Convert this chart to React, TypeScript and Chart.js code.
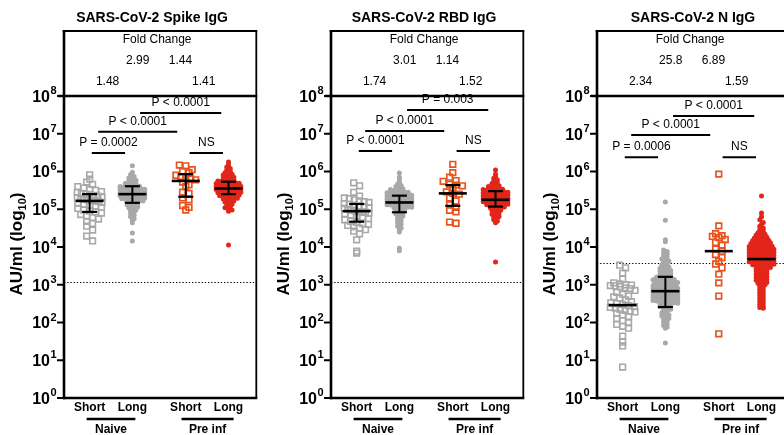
import React, { useEffect, useRef } from 'react';
import { Chart, registerables } from 'chart.js';

Chart.register(...registerables);

// ---------- shared categories ----------
const groupNames = ['Short', 'Long', 'Short', 'Long'];
const cohortNames = ['Naive', 'Pre inf'];
const groupPositions = [1, 2, 3.25, 4.25];
const pairs = [[0, 1], [0, 2], [1, 3], [2, 3]];
const foldRows = [2, 1, 1, 2];
const yTickExponents = [0, 1, 2, 3, 4, 5, 6, 7, 8];

// ---------- Spike IgG (log10 AU/ml) ----------
const spikeTitle = 'SARS-CoV-2 Spike IgG';
const spikeShortNaive = [5.91, 5.80, 5.72, 5.66, 5.60, 5.56, 5.52, 5.50, 5.47, 5.45, 5.42, 5.40, 5.39, 5.37, 5.35, 5.33, 5.31, 5.29, 5.27, 5.25, 5.23, 5.22, 5.20, 5.18, 5.16, 5.13, 5.10, 5.08, 5.05, 5.02, 4.98, 4.95, 4.93, 4.90, 4.86, 4.82, 4.78, 4.74, 4.68, 4.62, 4.55, 4.45, 4.29, 4.16];
const spikeLongNaive = [6.15, 5.98, 5.92, 5.87, 5.83, 5.80, 5.77, 5.74, 5.72, 5.70, 5.68, 5.66, 5.64, 5.62, 5.61, 5.60, 5.59, 5.58, 5.57, 5.56, 5.55, 5.54, 5.53, 5.52, 5.51, 5.50, 5.49, 5.48, 5.47, 5.46, 5.45, 5.44, 5.43, 5.42, 5.41, 5.40, 5.39, 5.38, 5.37, 5.36, 5.35, 5.34, 5.33, 5.32, 5.31, 5.30, 5.29, 5.28, 5.27, 5.26, 5.25, 5.24, 5.23, 5.22, 5.20, 5.18, 5.16, 5.14, 5.12, 5.10, 5.08, 5.06, 5.04, 5.01, 4.98, 4.95, 4.92, 4.88, 4.84, 4.80, 4.75, 4.70, 4.64, 4.37, 4.16];
const spikeShortPre = [6.17, 6.15, 6.05, 6.00, 5.97, 5.90, 5.85, 5.82, 5.80, 5.78, 5.72, 5.65, 5.60, 5.45, 5.42, 5.30, 5.25, 5.10, 5.05, 4.98];
const spikeLongPre = [6.25, 6.18, 6.12, 6.08, 6.04, 6.00, 5.97, 5.95, 5.93, 5.91, 5.89, 5.87, 5.85, 5.83, 5.81, 5.79, 5.77, 5.75, 5.74, 5.73, 5.72, 5.71, 5.70, 5.69, 5.68, 5.67, 5.66, 5.65, 5.64, 5.63, 5.62, 5.61, 5.60, 5.59, 5.58, 5.57, 5.56, 5.55, 5.54, 5.53, 5.52, 5.51, 5.50, 5.49, 5.48, 5.47, 5.46, 5.45, 5.44, 5.43, 5.42, 5.41, 5.40, 5.39, 5.38, 5.36, 5.35, 5.33, 5.32, 5.30, 5.29, 5.27, 5.26, 5.24, 5.22, 5.19, 5.16, 5.13, 5.10, 5.07, 5.04, 5.01, 4.98, 4.95, 4.05];
const spikeMedian = [5.22, 5.40, 5.75, 5.55];
const spikeQ1 = [4.93, 5.17, 5.33, 5.40];
const spikeQ3 = [5.40, 5.61, 5.93, 5.73];
const spikeFold = ['1.48', '2.99', '1.44', '1.41'];
const spikeP = ['P = 0.0002', 'P < 0.0001', 'P < 0.0001', 'NS'];
const spikeCutoff = 1160;

// ---------- RBD IgG (log10 AU/ml) ----------
const rbdTitle = 'SARS-CoV-2 RBD IgG';
const rbdShortNaive = [5.70, 5.62, 5.45, 5.35, 5.30, 5.28, 5.25, 5.22, 5.20, 5.18, 5.15, 5.13, 5.10, 5.08, 5.06, 5.04, 5.02, 5.00, 4.98, 4.96, 4.94, 4.93, 4.92, 4.90, 4.88, 4.85, 4.82, 4.78, 4.75, 4.72, 4.68, 4.65, 4.62, 4.60, 4.57, 4.54, 4.50, 4.46, 4.42, 4.35, 4.19, 3.89, 3.84];
const rbdLongNaive = [5.96, 5.85, 5.78, 5.72, 5.67, 5.63, 5.60, 5.57, 5.54, 5.52, 5.50, 5.48, 5.47, 5.46, 5.45, 5.44, 5.43, 5.42, 5.41, 5.40, 5.39, 5.38, 5.37, 5.36, 5.35, 5.34, 5.33, 5.32, 5.31, 5.30, 5.29, 5.28, 5.27, 5.26, 5.25, 5.24, 5.23, 5.22, 5.21, 5.20, 5.19, 5.18, 5.17, 5.16, 5.15, 5.14, 5.13, 5.12, 5.11, 5.10, 5.09, 5.08, 5.07, 5.06, 5.05, 5.03, 5.01, 4.99, 4.97, 4.95, 4.93, 4.91, 4.88, 4.85, 4.82, 4.79, 4.76, 4.72, 4.68, 4.64, 4.60, 4.55, 4.50, 4.45, 4.40, 3.97, 3.90];
const rbdShortPre = [6.19, 5.97, 5.85, 5.76, 5.74, 5.66, 5.64, 5.62, 5.55, 5.46, 5.42, 5.40, 5.30, 5.22, 5.12, 5.05, 4.97, 4.93, 4.66, 4.63];
const rbdLongPre = [6.04, 5.93, 5.87, 5.82, 5.78, 5.74, 5.71, 5.68, 5.65, 5.62, 5.60, 5.58, 5.56, 5.54, 5.53, 5.52, 5.51, 5.50, 5.49, 5.48, 5.47, 5.46, 5.45, 5.44, 5.43, 5.42, 5.41, 5.40, 5.39, 5.38, 5.37, 5.36, 5.35, 5.34, 5.33, 5.32, 5.31, 5.30, 5.29, 5.28, 5.27, 5.26, 5.25, 5.24, 5.23, 5.22, 5.21, 5.20, 5.19, 5.18, 5.17, 5.16, 5.15, 5.14, 5.13, 5.12, 5.11, 5.10, 5.09, 5.08, 5.06, 5.04, 5.02, 5.00, 4.98, 4.96, 4.93, 4.90, 4.87, 4.84, 4.81, 4.78, 4.75, 4.72, 4.68, 4.64, 3.60];
const rbdMedian = [4.95, 5.18, 5.42, 5.25];
const rbdQ1 = [4.67, 4.92, 5.09, 5.07];
const rbdQ3 = [5.14, 5.36, 5.64, 5.48];
const rbdFold = ['1.74', '3.01', '1.14', '1.52'];
const rbdP = ['P < 0.0001', 'P < 0.0001', 'P = 0.003', 'NS'];
const rbdCutoff = 1160;

// ---------- N IgG (log10 AU/ml) ----------
const nTitle = 'SARS-CoV-2 N IgG';
const nShortNaive = [3.52, 3.45, 3.31, 3.15, 3.05, 3.02, 3.00, 2.99, 2.98, 2.97, 2.95, 2.92, 2.90, 2.85, 2.80, 2.75, 2.70, 2.68, 2.65, 2.60, 2.55, 2.52, 2.50, 2.48, 2.45, 2.42, 2.40, 2.38, 2.35, 2.32, 2.30, 2.28, 2.25, 2.20, 2.15, 2.10, 2.05, 2.00, 1.95, 1.90, 1.85, 1.64, 1.48, 1.38, 0.82];
const nLongNaive = [5.19, 4.71, 4.19, 4.14, 3.92, 3.88, 3.84, 3.80, 3.76, 3.72, 3.68, 3.65, 3.62, 3.59, 3.56, 3.53, 3.50, 3.47, 3.44, 3.42, 3.40, 3.38, 3.36, 3.34, 3.32, 3.30, 3.28, 3.26, 3.24, 3.22, 3.20, 3.19, 3.18, 3.16, 3.15, 3.14, 3.13, 3.12, 3.11, 3.10, 3.09, 3.08, 3.07, 3.06, 3.05, 3.04, 3.03, 3.02, 3.01, 3.00, 2.99, 2.98, 2.97, 2.96, 2.95, 2.94, 2.93, 2.92, 2.91, 2.90, 2.89, 2.88, 2.87, 2.86, 2.85, 2.84, 2.83, 2.82, 2.81, 2.80, 2.79, 2.78, 2.77, 2.76, 2.75, 2.74, 2.73, 2.72, 2.71, 2.70, 2.69, 2.68, 2.67, 2.66, 2.65, 2.64, 2.63, 2.62, 2.61, 2.60, 2.59, 2.58, 2.57, 2.56, 2.55, 2.54, 2.53, 2.52, 2.51, 2.50, 2.48, 2.46, 2.44, 2.42, 2.40, 2.38, 2.35, 2.32, 2.29, 2.26, 2.23, 2.20, 2.17, 2.14, 2.11, 2.08, 2.04, 2.00, 1.96, 1.92, 1.88, 1.85, 1.46];
const nShortPre = [5.93, 4.56, 4.35, 4.30, 4.28, 4.25, 4.20, 4.12, 4.05, 3.95, 3.89, 3.80, 3.72, 3.62, 3.55, 3.45, 3.28, 3.05, 2.70, 1.70];
const nLongPre = [5.35, 4.90, 4.80, 4.72, 4.65, 4.60, 4.55, 4.50, 4.46, 4.42, 4.38, 4.36, 4.34, 4.32, 4.30, 4.28, 4.26, 4.24, 4.22, 4.20, 4.19, 4.18, 4.17, 4.15, 4.14, 4.13, 4.12, 4.11, 4.09, 4.08, 4.07, 4.06, 4.05, 4.04, 4.02, 4.01, 4.00, 3.99, 3.98, 3.97, 3.96, 3.95, 3.94, 3.93, 3.92, 3.91, 3.90, 3.89, 3.88, 3.87, 3.86, 3.85, 3.84, 3.83, 3.82, 3.81, 3.80, 3.79, 3.78, 3.77, 3.76, 3.75, 3.74, 3.73, 3.72, 3.71, 3.70, 3.69, 3.68, 3.67, 3.66, 3.65, 3.64, 3.63, 3.62, 3.61, 3.60, 3.59, 3.58, 3.57, 3.56, 3.55, 3.54, 3.53, 3.52, 3.51, 3.50, 3.48, 3.46, 3.44, 3.42, 3.40, 3.38, 3.36, 3.34, 3.32, 3.30, 3.28, 3.26, 3.24, 3.22, 3.20, 3.18, 3.16, 3.14, 3.12, 3.10, 3.08, 3.06, 3.04, 3.02, 3.00, 2.96, 2.92, 2.88, 2.84, 2.80, 2.76, 2.72, 2.68, 2.64, 2.60, 2.56, 2.52, 2.48, 2.44, 2.40, 2.38];
const nMedian = [2.46, 2.83, 3.89, 3.68];
const nQ1: (number | null)[] = [null, 2.41, null, null];
const nQ3: (number | null)[] = [null, 3.21, null, null];
const nFold = ['2.34', '25.8', '6.89', '1.59'];
const nP = ['P = 0.0006', 'P < 0.0001', 'P < 0.0001', 'NS'];
const nCutoff = 3874;

// ---------- layout / style (not data) ----------
const FONT = '"Liberation Sans", Arial, Helvetica, sans-serif';
const CANVAS_W = 262;
const CANVAS_H = 435;
const PAD = { left: 64, right: 3, top: 96, bottom: 37 };
const X_MIN = 0.4;
const X_MAX = 4.9;
const BOX_TOP = 31;
const PX_PER_DECADE = (CANVAS_H - PAD.top - PAD.bottom) / 8;
const PX_PER_UNIT = (CANVAS_W - PAD.left - PAD.right) / (X_MAX - X_MIN);
const BRACKET_INSETS = [[0.05, 0.17], [0.2, 0.2], [0.18, 0.17], [0.09, 0.13]];
const GRAY = '#a8a8a8';
const ORANGE = '#e8541d';
const RED = '#e2261a';

const panels = [
  { left: 0, title: spikeTitle, titleX: 152, groups: [spikeShortNaive, spikeLongNaive, spikeShortPre, spikeLongPre], median: spikeMedian, q1: spikeQ1, q3: spikeQ3, fold: spikeFold, pLabels: spikeP, pLevels: [6.49, 7.05, 7.55, 6.49], cutoff: spikeCutoff },
  { left: 267, title: rbdTitle, titleX: 157, groups: [rbdShortNaive, rbdLongNaive, rbdShortPre, rbdLongPre], median: rbdMedian, q1: rbdQ1, q3: rbdQ3, fold: rbdFold, pLabels: rbdP, pLevels: [6.54, 7.07, 7.63, 6.54], cutoff: rbdCutoff },
  { left: 533, title: nTitle, titleX: 160, groups: [nShortNaive, nLongNaive, nShortPre, nLongPre], median: nMedian, q1: nQ1, q3: nQ3, fold: nFold, pLabels: nP, pLevels: [6.38, 6.97, 7.47, 6.38], cutoff: nCutoff },
];

// swarm layout: rows binned by pixel height, points spread horizontally
function swarm(vals: number[], center: number, rowPx: number, gapPx: number, maxHalf: number) {
  const rows = new Map<number, number[]>();
  vals.forEach((v, i) => {
    const r = Math.round((v * PX_PER_DECADE) / rowPx);
    if (!rows.has(r)) rows.set(r, []);
    rows.get(r)!.push(i);
  });
  const xs = new Array(vals.length).fill(center);
  rows.forEach((idx) => {
    const n = idx.length;
    const gap = n > 1 ? Math.min(gapPx, (2 * maxHalf) / (n - 1)) : 0;
    idx.forEach((i, k) => {
      xs[i] = center + ((k - (n - 1) / 2) * gap) / PX_PER_UNIT;
    });
  });
  return vals.map((v, i) => ({ x: xs[i], y: Math.pow(10, v) }));
}

const decorPlugin = {
  id: 'decor',
  beforeDatasetsDraw(chart: any, _a: any, o: any) {
    const { ctx, chartArea: ca } = chart;
    const ys = chart.scales.y;
    const ty = Math.round(ys.getPixelForValue(o.cutoff)) + 0.5;
    ctx.save();
    ctx.strokeStyle = '#000';
    ctx.lineWidth = 1.2;
    ctx.setLineDash([1.3, 1.9]);
    ctx.beginPath();
    ctx.moveTo(ca.left, ty);
    ctx.lineTo(ca.right, ty);
    ctx.stroke();
    ctx.restore();
  },
  afterDraw(chart: any, _a: any, o: any) {
    const { ctx, chartArea: ca } = chart;
    const xs = chart.scales.x;
    const ys = chart.scales.y;
    const L = ca.left;
    const R = ca.right;
    const T = ys.getPixelForValue(1e8);
    const B = ys.getPixelForValue(1);
    const line = (x1: number, y1: number, x2: number, y2: number, w: number) => {
      ctx.lineWidth = w;
      ctx.beginPath();
      ctx.moveTo(x1, y1);
      ctx.lineTo(x2, y2);
      ctx.stroke();
    };
    ctx.save();
    ctx.strokeStyle = '#000';
    ctx.fillStyle = '#000';
    ctx.lineCap = 'butt';

    // median + IQR
    o.median.forEach((m: number, i: number) => {
      const cx = xs.getPixelForValue(groupPositions[i]);
      const my = ys.getPixelForValue(Math.pow(10, m));
      if (o.q1[i] != null && o.q3[i] != null) {
        const y1 = ys.getPixelForValue(Math.pow(10, o.q1[i]));
        const y3 = ys.getPixelForValue(Math.pow(10, o.q3[i]));
        line(cx, y3, cx, y1, 2);
        line(cx - 7.5, y1, cx + 7.5, y1, 2.2);
        line(cx - 7.5, y3, cx + 7.5, y3, 2.2);
      }
      line(cx - 14, my, cx + 14, my, 2.6);
    });

    // frame
    line(L - 1.25, BOX_TOP, R + 1, BOX_TOP, 2);
    line(R, BOX_TOP, R, B, 1.8);
    line(L - 6, T, R + 1, T, 2.6);
    line(L, BOX_TOP - 1, L, B + 1.3, 2.6);
    line(L - 1.3, B, R + 1, B, 2.6);

    // y ticks + labels
    yTickExponents.forEach((e) => {
      const py = ys.getPixelForValue(Math.pow(10, e));
      line(L - 7, py, L, py, 2);
      ctx.textBaseline = 'middle';
      ctx.textAlign = 'right';
      ctx.font = `bold 16px ${FONT}`;
      ctx.fillText('10', L - 14, py + 1.5);
      ctx.textAlign = 'left';
      ctx.font = `bold 11px ${FONT}`;
      ctx.fillText(String(e), L - 13.5, py - 5);
    });

    // y title
    ctx.save();
    ctx.translate(16, 244);
    ctx.rotate(-Math.PI / 2);
    const f1 = `bold 17px ${FONT}`;
    const f2 = `bold 11px ${FONT}`;
    ctx.font = f1;
    const w1 = ctx.measureText('AU/ml (log').width;
    const w3 = ctx.measureText(')').width;
    ctx.font = f2;
    const w2 = ctx.measureText('10').width;
    const x0 = -(w1 + w2 + w3) / 2;
    ctx.textAlign = 'left';
    ctx.textBaseline = 'alphabetic';
    ctx.font = f1;
    ctx.fillText('AU/ml (log', x0, 6);
    ctx.font = f2;
    ctx.fillText('10', x0 + w1, 10);
    ctx.font = f1;
    ctx.fillText(')', x0 + w1 + w2, 6);
    ctx.restore();

    // title
    ctx.textAlign = 'center';
    ctx.textBaseline = 'middle';
    ctx.font = `bold 14px ${FONT}`;
    ctx.fillText(o.title, o.titleX, 18);

    // fold change box
    ctx.font = `12px ${FONT}`;
    ctx.fillText('Fold Change', (L + R) / 2 - 3, 40);
    pairs.forEach((p, k) => {
      const mid = (groupPositions[p[0]] + groupPositions[p[1]]) / 2 - (foldRows[k] === 2 ? 0.08 : 0);
      ctx.fillText(o.fold[k], xs.getPixelForValue(mid), foldRows[k] === 1 ? 61 : 82);
    });

    // significance brackets
    pairs.forEach((p, k) => {
      const xa = xs.getPixelForValue(groupPositions[p[0]] + BRACKET_INSETS[k][0]);
      const xb = xs.getPixelForValue(groupPositions[p[1]] - BRACKET_INSETS[k][1]);
      const ly = ys.getPixelForValue(Math.pow(10, o.pLevels[k]));
      line(xa, ly, xb, ly, 2);
      ctx.fillText(o.pLabels[k], (xa + xb) / 2, ly - 10);
    });

    // x category labels
    ctx.font = `bold 12px ${FONT}`;
    groupNames.forEach((g, i) => {
      ctx.fillText(g, xs.getPixelForValue(groupPositions[i]), 408);
    });
    const spans = [[groupPositions[0] - 0.07, groupPositions[1] + 0.07], [groupPositions[2] - 0.1, groupPositions[3] + 0.12]];
    spans.forEach((s, k) => {
      const a = xs.getPixelForValue(s[0]);
      const b = xs.getPixelForValue(s[1]);
      line(a, 419, b, 419, 2.5);
      ctx.fillText(cohortNames[k], (a + b) / 2, 430);
    });
    ctx.restore();
  },
};

function Panel({ spec }: { spec: any }) {
  const ref = useRef<HTMLCanvasElement | null>(null);
  useEffect(() => {
    if (!ref.current) return;
    const styles = [
      { pointStyle: 'rect', radius: 4, borderWidth: 1.6, borderColor: GRAY, backgroundColor: 'rgba(0,0,0,0)', row: 5.5, gap: 6, half: 12.5 },
      { pointStyle: 'circle', radius: 2.5, borderWidth: 0, borderColor: GRAY, backgroundColor: GRAY, row: 3, gap: 3.6, half: 12.5 },
      { pointStyle: 'rect', radius: 4, borderWidth: 1.7, borderColor: ORANGE, backgroundColor: 'rgba(0,0,0,0)', row: 5.5, gap: 6.5, half: 10 },
      { pointStyle: 'circle', radius: 2.5, borderWidth: 0, borderColor: RED, backgroundColor: RED, row: 3, gap: 3.6, half: 12.5 },
    ];
    const datasets = spec.groups.map((vals: number[], i: number) => ({
      label: `${cohortNames[i < 2 ? 0 : 1]} ${groupNames[i]}`,
      data: swarm(vals, groupPositions[i], styles[i].row, styles[i].gap, styles[i].half),
      pointStyle: styles[i].pointStyle,
      pointRadius: styles[i].radius,
      pointBorderWidth: styles[i].borderWidth,
      pointBorderColor: styles[i].borderColor,
      pointBackgroundColor: styles[i].backgroundColor,
      showLine: false,
    }));
    const chart = new Chart(ref.current, {
      type: 'scatter',
      data: { datasets },
      options: {
        animation: false,
        responsive: false,
        devicePixelRatio: 1,
        events: [],
        layout: { padding: PAD },
        scales: {
          x: { type: 'linear', min: X_MIN, max: X_MAX, display: false },
          y: { type: 'logarithmic', min: 1, max: 1e8, display: false },
        },
        plugins: {
          legend: { display: false },
          tooltip: { enabled: false },
          decor: {
            title: spec.title,
            titleX: spec.titleX,
            median: spec.median,
            q1: spec.q1,
            q3: spec.q3,
            fold: spec.fold,
            pLabels: spec.pLabels,
            pLevels: spec.pLevels,
            cutoff: spec.cutoff,
          },
        } as any,
      },
      plugins: [decorPlugin],
    });
    return () => chart.destroy();
  }, [spec]);
  return (
    <canvas
      ref={ref}
      width={CANVAS_W}
      height={CANVAS_H}
      style={{ position: 'absolute', left: spec.left, top: 0, width: CANVAS_W, height: CANVAS_H }}
    />
  );
}

export default function App() {
  return (
    <div style={{ position: 'fixed', left: 0, top: 0, width: 784, height: 435, overflow: 'hidden', background: '#fff' }}>
      {panels.map((p) => (
        <Panel key={p.title} spec={p} />
      ))}
    </div>
  );
}
